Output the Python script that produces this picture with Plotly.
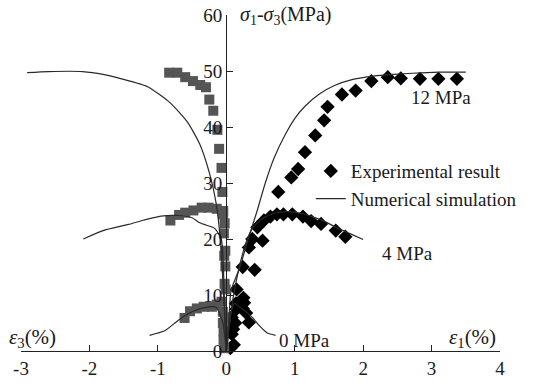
import plotly.graph_objects as go

# ---- data ----
# Numerical simulation: axial strain (right side)
sim12_ax_x = [0, 0.04, 0.07, 0.2, 0.32, 0.45, 0.57, 0.7, 0.86, 1.0, 1.15, 1.35, 1.58, 1.85, 2.15, 2.45, 2.72, 3.1, 3.5]
sim12_ax_y = [0, 6, 10.8, 15, 20, 25, 30, 34.5, 38.6, 41.5, 43.7, 45.8, 47.4, 48.5, 49.1, 49.4, 49.6, 49.8, 49.8]
sim4_ax_x = [0, 0.05, 0.1, 0.2, 0.3, 0.4, 0.55, 0.7, 0.9, 1.1, 1.25, 1.43, 1.6, 1.8, 2.0]
sim4_ax_y = [0, 5, 9.5, 15.5, 19.8, 22.2, 23.8, 24.6, 24.9, 24.6, 24.0, 23.2, 22.1, 21.0, 19.9]
sim0_ax_x = [0, 0.03, 0.07, 0.12, 0.18, 0.26, 0.38, 0.5, 0.6, 0.72]
sim0_ax_y = [0, 4, 7, 8.5, 8.0, 7.3, 6.0, 4.3, 3.2, 2.8]

# Numerical simulation: lateral strain (left side)
sim12_lat_x = [-2.91, -2.6, -2.1, -1.8, -1.53, -1.15, -0.82, -0.57, -0.39, -0.24, -0.15, -0.08, -0.04, 0]
sim12_lat_y = [49.7, 49.9, 49.9, 49.4, 48.6, 47.2, 44.3, 40.9, 37.0, 31.5, 26.5, 19, 10, 0]
sim4_lat_x = [-2.09, -1.8, -1.43, -1.2, -0.955, -0.7, -0.5, -0.405, -0.3, -0.17, -0.072, -0.03, 0]
sim4_lat_y = [20, 21.5, 22.6, 23.4, 24.1, 24.2, 23.8, 23.0, 22.5, 21.9, 19.9, 10, 0]
sim0_lat_x = [-1.12, -0.9, -0.69, -0.5, -0.3, -0.15, -0.05, 0]
sim0_lat_y = [2.8, 3.6, 5.6, 7.0, 7.8, 7.8, 5, 0]

# Experimental result: axial (diamonds)
exp12_ax_x = [0.13, 0.25, 0.415, 0.53, 0.76, 0.95, 1.05, 1.15, 1.30, 1.43, 1.48, 1.69, 1.89, 2.12, 2.36, 2.55, 2.83, 3.10, 3.37]
exp12_ax_y = [5.0, 9.5, 14.5, 19.7, 28.4, 31.0, 32.5, 35.5, 38.5, 41.2, 43.6, 45.8, 46.5, 48.2, 48.9, 48.7, 48.6, 48.6, 48.6]
exp4_ax_x = [0.15, 0.24, 0.33, 0.38, 0.454, 0.55, 0.645, 0.74, 0.835, 0.965, 1.12, 1.24, 1.385, 1.60, 1.74]
exp4_ax_y = [11.0, 15.0, 18.5, 20.0, 22.1, 23.3, 24.0, 24.4, 24.4, 24.4, 24.0, 23.2, 22.7, 21.5, 20.4]
exp0_ax_x = [0.06, 0.11, 0.08, 0.10, 0.08, 0.15, 0.14, 0.20, 0.26, 0.24, 0.29, 0.33]
exp0_ax_y = [0.5, 1.1, 3.0, 3.9, 6.0, 7.5, 8.5, 8.2, 8.6, 7.6, 6.8, 5.1]

# Experimental result: lateral (squares)
exp12_lat_x = [-0.835, -0.716, -0.6, -0.487, -0.38, -0.297, -0.248, -0.19, -0.13, -0.105, -0.07, -0.057, -0.045, -0.035, -0.03, -0.025, -0.02]
exp12_lat_y = [49.7, 49.7, 48.9, 48.2, 47.5, 47.1, 44.9, 42.9, 39.5, 36.1, 32.7, 28.4, 25.0, 21.0, 17.0, 12.0, 6.0]
exp4_lat_x = [-0.817, -0.69, -0.60, -0.48, -0.36, -0.26, -0.14, -0.047, -0.024, -0.014, -0.014, -0.01, -0.01]
exp4_lat_y = [23.3, 24.3, 24.7, 25.1, 25.6, 25.6, 25.4, 24.4, 22.8, 17.9, 15.1, 11.0, 6.0]
exp0_lat_x = [-0.61, -0.53, -0.43, -0.33, -0.21, -0.14, -0.07, -0.05, -0.05, -0.04, -0.04, -0.03]
exp0_lat_y = [5.9, 7.1, 7.6, 7.9, 7.9, 8.3, 8.8, 7.0, 5.0, 3.5, 2.0, 0.5]

x_ticks = [-3, -2, -1, 0, 1, 2, 3, 4]
x_ticklabels = ["-3", "-2", "-1", "0", "1", "2", "3", "4"]
y_ticks = [0, 10, 20, 30, 40, 50, 60]
y_ticklabels = ["0", "10", "20", "30", "40", "50", "60"]

FONT = "Times New Roman, Liberation Serif, Tinos, DejaVu Serif, serif"
FS = 19
LINE_C = "#2a2a2a"
DIA_C = "#000000"
SQ_C = "#555555"

fig = go.Figure()

# legend entries first
fig.add_trace(go.Scatter(x=exp12_ax_x, y=exp12_ax_y, mode="markers", name="Experimental result",
                         marker=dict(symbol="diamond", size=11, color=DIA_C), showlegend=True,
                         legendrank=1, cliponaxis=False))
for xs, ys in [(exp4_ax_x, exp4_ax_y), (exp0_ax_x, exp0_ax_y)]:
    fig.add_trace(go.Scatter(x=xs, y=ys, mode="markers", showlegend=False,
                             marker=dict(symbol="diamond", size=11, color=DIA_C), cliponaxis=False))
for xs, ys in [(exp12_lat_x, exp12_lat_y), (exp4_lat_x, exp4_lat_y), (exp0_lat_x, exp0_lat_y)]:
    fig.add_trace(go.Scatter(x=xs, y=ys, mode="markers", showlegend=False,
                             marker=dict(symbol="square", size=10, color=SQ_C), cliponaxis=False))

first = True
for xs, ys in [(sim12_ax_x, sim12_ax_y), (sim4_ax_x, sim4_ax_y), (sim0_ax_x, sim0_ax_y),
               (sim12_lat_x, sim12_lat_y), (sim4_lat_x, sim4_lat_y), (sim0_lat_x, sim0_lat_y)]:
    fig.add_trace(go.Scatter(x=xs, y=ys, mode="lines", name="Numerical simulation",
                             line=dict(color=LINE_C, width=1.2, shape="spline", smoothing=0.6),
                             showlegend=first, legendrank=2, cliponaxis=False))
    first = False

fig.update_layout(
    width=534, height=391,
    margin=dict(l=21, r=25, t=15, b=24),
    paper_bgcolor="white", plot_bgcolor="white",
    font=dict(family=FONT, size=FS, color="#1a1a1a"),
    showlegend=True,
    legend=dict(x=0.605, y=0.592, xanchor="left", yanchor="top", bgcolor="rgba(0,0,0,0)",
                font=dict(family=FONT, size=FS, color="#1a1a1a"), itemwidth=30,
                tracegroupgap=0),
    xaxis=dict(range=[-3, 4], tickvals=x_ticks, ticktext=x_ticklabels, ticks="inside", ticklen=6,
               tickcolor="#222", showline=True, linecolor="#222", linewidth=1.3,
               showgrid=False, zeroline=False, tickfont=dict(family=FONT, size=FS)),
    yaxis=dict(range=[0, 60], tickvals=y_ticks, ticktext=y_ticklabels, ticks="inside", ticklen=6,
               tickcolor="#222", showline=True, linecolor="#222", linewidth=1.3,
               showgrid=False, zeroline=False, anchor="free", position=3 / 7, side="left",
               automargin=False, tickfont=dict(family=FONT, size=FS)),
    annotations=[
        dict(text="<i>σ</i><sub>1</sub>-<i>σ</i><sub>3</sub>(MPa)", xref="paper", yref="paper",
             x=0.452, y=1.0, xanchor="left", yanchor="middle", showarrow=False,
             font=dict(family=FONT, size=20)),
        dict(text="<i>ε</i><sub>3</sub>(%)", xref="paper", yref="paper",
             x=-0.030, y=0.038, xanchor="left", yanchor="middle", showarrow=False,
             font=dict(family=FONT, size=21)),
        dict(text="<i>ε</i><sub>1</sub>(%)", xref="paper", yref="paper",
             x=0.995, y=0.038, xanchor="right", yanchor="middle", showarrow=False,
             font=dict(family=FONT, size=21)),
        dict(text="12 MPa", x=3.14, y=45.2, xanchor="center", yanchor="middle", showarrow=False,
             font=dict(family=FONT, size=FS)),
        dict(text="4 MPa", x=2.65, y=17.5, xanchor="center", yanchor="middle", showarrow=False,
             font=dict(family=FONT, size=FS)),
        dict(text="0 MPa", x=0.745, y=1.8, xanchor="left", yanchor="middle", showarrow=False,
             font=dict(family=FONT, size=FS)),
    ],
)

# remove the default 8px page margin so the figure fills the 534x391 window exactly
fig.write_html("out.html", config={"displayModeBar": False},
               post_script="document.body.style.margin='0';")
